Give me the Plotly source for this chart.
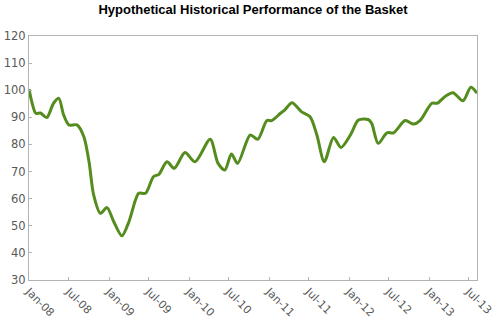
import plotly.graph_objects as go

dates = ["2008-01-01", "2008-01-16", "2008-02-01", "2008-02-22", "2008-03-22", "2008-04-22",
         "2008-05-16", "2008-06-07", "2008-07-01", "2008-08-07", "2008-09-07", "2008-10-01",
         "2008-10-22", "2008-11-22", "2008-12-22", "2009-01-22", "2009-02-28", "2009-04-01",
         "2009-05-01", "2009-05-16", "2009-06-16", "2009-07-22", "2009-08-16", "2009-09-22",
         "2009-10-25", "2009-12-13", "2010-01-28", "2010-04-07", "2010-05-13", "2010-06-13",
         "2010-07-13", "2010-08-10", "2010-10-07", "2010-11-10", "2010-12-22", "2011-01-13",
         "2011-02-22", "2011-03-13", "2011-04-16", "2011-05-28", "2011-07-07", "2011-08-07",
         "2011-09-10", "2011-10-22", "2011-11-25", "2012-01-07", "2012-02-13", "2012-03-28",
         "2012-04-13", "2012-05-13", "2012-06-22", "2012-07-22", "2012-09-13", "2012-10-22",
         "2012-11-22", "2013-01-13", "2013-02-07", "2013-03-13", "2013-04-19", "2013-06-04",
         "2013-07-10", "2013-08-07"]
values = [100.4, 95.0, 91.5, 91.6, 89.9, 95.2,
          97.0, 90.9, 87.2, 87.2, 82.9, 73.6,
          61.4, 54.6, 56.7, 51.5, 46.3, 51.5,
          59.5, 62.0, 62.0, 68.1, 69.0, 73.6,
          71.2, 77.0, 73.6, 81.9, 73.0, 70.6,
          76.5, 73.0, 83.5, 81.9, 88.8, 88.8,
          91.5, 92.7, 95.4, 92.1, 90.2, 83.5,
          73.6, 82.6, 78.9, 83.5, 89.0, 89.2,
          87.8, 80.4, 84.3, 84.3, 88.8, 87.5,
          89.0, 95.2, 95.2, 97.6, 99.1, 96.1,
          101.1, 98.9]

tick_dates = ["2008-01-01", "2008-07-01", "2009-01-01", "2009-07-01", "2010-01-01", "2010-07-01",
              "2011-01-01", "2011-07-01", "2012-01-01", "2012-07-01", "2013-01-01", "2013-07-01"]
tick_labels = ["Jan-08", "Jul-08", "Jan-09", "Jul-09", "Jan-10", "Jul-10",
               "Jan-11", "Jul-11", "Jan-12", "Jul-12", "Jan-13", "Jul-13"]
y_ticks = [30, 40, 50, 60, 70, 80, 90, 100, 110, 120]

fig = go.Figure()
fig.add_trace(go.Scatter(x=dates, y=values, mode="lines",
                         line=dict(color="#548C1E", width=3, shape="spline", smoothing=0.8),
                         showlegend=False, hoverinfo="skip"))

fig.update_layout(
    width=496, height=317,
    margin=dict(l=29, r=19, t=36, b=37),
    paper_bgcolor="white", plot_bgcolor="white",
    title=dict(text="<b>Hypothetical Historical Performance of the Basket</b>",
               x=0.5, xanchor="center", xref="paper", y=0.985, yanchor="top",
               font=dict(family="Liberation Sans, Arial", size=13, color="black")),
    xaxis=dict(type="date", range=["2008-01-01", "2013-08-07"], automargin=False,
               tickvals=tick_dates, ticktext=tick_labels, tickangle=45,
               showgrid=False, zeroline=False,
               showline=True, linecolor="#B3B3B3", linewidth=1, mirror=True,
               ticks="inside", ticklen=3, tickcolor="#B3B3B3",
               tickfont=dict(family="DejaVu Sans", size=11, color="#595959")),
    yaxis=dict(range=[30, 120], tickvals=y_ticks, automargin=False,
               showgrid=False, zeroline=False,
               showline=True, linecolor="#B3B3B3", linewidth=1, mirror=True,
               ticks="inside", ticklen=3, tickcolor="#B3B3B3",
               tickfont=dict(family="DejaVu Sans", size=11.5, color="#595959")),
)

fig.write_html("out.html", config={"displayModeBar": False, "staticPlot": True},
               post_script="document.body.style.margin='0';")
